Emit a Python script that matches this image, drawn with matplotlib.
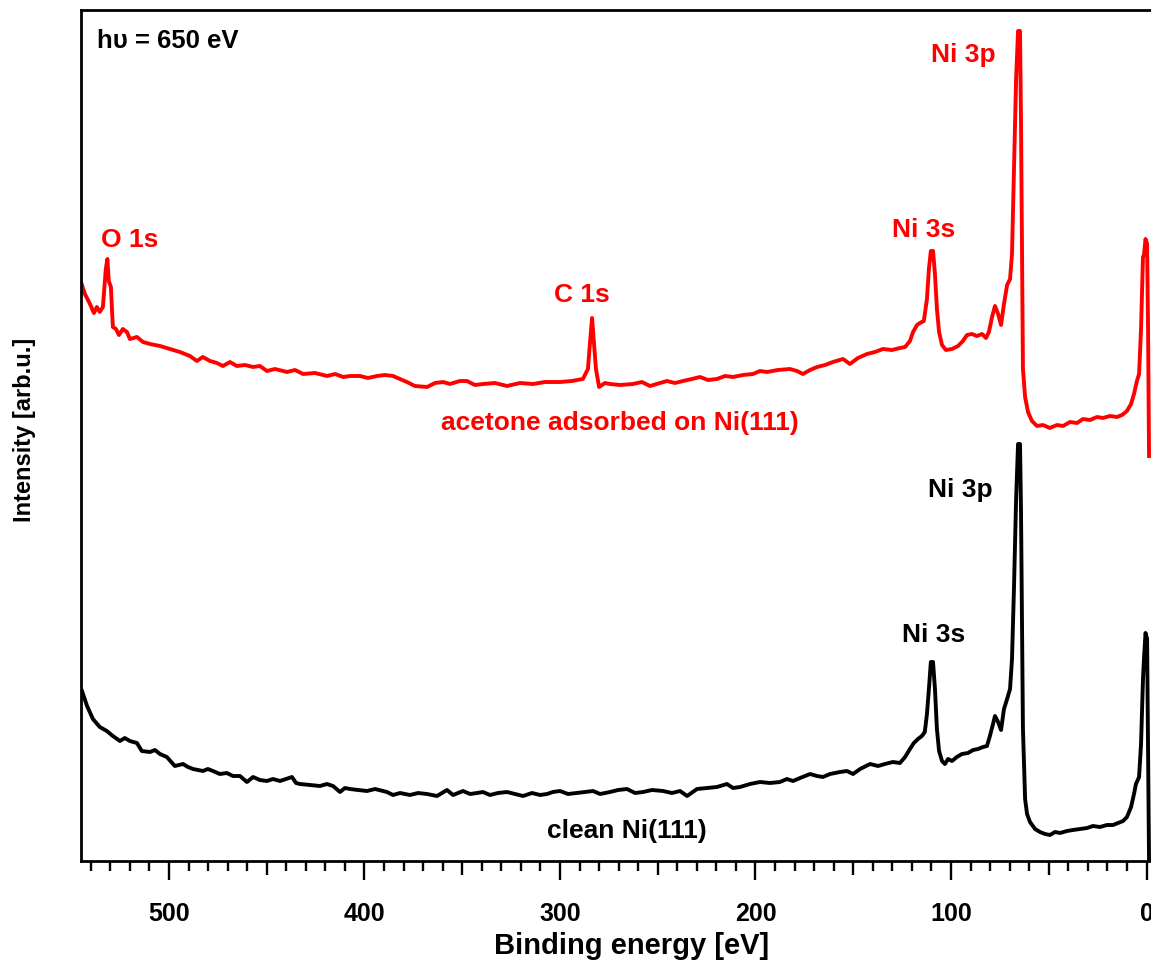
import matplotlib.pyplot as plt
from matplotlib.ticker import MultipleLocator

plt.rcParams['font.family'] = ['Liberation Sans', 'DejaVu Sans']
plt.rcParams['font.weight'] = 'bold'
plt.rcParams['axes.labelweight'] = 'bold'

# acetone adsorbed on Ni(111): binding energy [eV] and intensity [arb.u.]
acetone_be = [545.0, 543.0, 540.4, 538.4, 536.9, 535.4, 533.8, 532.3, 531.5, 530.8,
              529.7, 528.7, 527.1, 525.6, 523.6, 521.5, 520.0, 516.4, 513.3, 509.7,
              504.6, 499.5, 494.4, 489.3, 485.7, 482.7, 479.0, 475.5, 472.4, 468.8,
              465.3, 461.1, 457.0, 453.5, 449.9, 445.8, 439.6, 435.5, 431.4, 425.3,
              419.1, 415.0, 410.9, 407.4, 402.3, 398.2, 393.6, 389.5, 385.4, 381.8,
              378.3, 374.2, 368.0, 363.9, 359.8, 356.3, 351.2, 347.6, 343.5, 339.4,
              333.3, 327.1, 320.5, 313.8, 307.7, 300.0, 293.9, 288.3, 285.7, 284.7,
              283.6, 282.6, 281.6, 280.0, 277.0, 274.4, 269.3, 262.7, 258.1, 254.0,
              248.8, 245.3, 241.2, 237.1, 232.5, 228.4, 224.3, 219.7, 215.6, 211.5,
              206.4, 201.3, 197.7, 194.1, 188.5, 182.4, 178.8, 175.7, 172.1, 168.5,
              164.4, 160.4, 155.2, 151.7, 147.6, 143.0, 138.9, 134.8, 130.2, 126.1,
              123.5, 121.0, 119.4, 117.4, 115.9, 113.9, 112.3, 111.3, 110.3, 109.2,
              108.2, 107.2, 106.1, 104.6, 102.6, 99.5, 96.4, 93.9, 91.8, 89.3,
              86.7, 84.1, 82.1, 80.6, 79.0, 77.5, 75.9, 74.4, 72.9, 71.3,
              69.8, 68.8, 67.8, 66.7, 65.7, 64.7, 64.2, 63.7, 63.2, 62.1,
              60.6, 58.6, 56.0, 53.0, 49.4, 45.8, 42.7, 39.1, 35.5, 32.5,
              28.9, 25.3, 22.3, 18.7, 15.1, 12.5, 10.0, 7.9, 6.4, 4.9,
              3.8, 2.8, 1.8, 1.3, 0.5, -0.3, -0.8, -1.3]
acetone_int = [579, 567, 557, 548, 554, 549, 554, 592, 602, 580,
               574, 534, 532, 526, 532, 529, 522, 524, 519, 517,
               515, 512, 509, 505, 500, 504, 500, 498, 495, 499,
               495, 496, 494, 495, 490, 492, 489, 491, 487, 488,
               485, 487, 484, 485, 485, 483, 485, 486, 485, 482,
               479, 475, 474, 478, 479, 477, 480, 480, 476, 477,
               478, 475, 478, 477, 479, 479, 480, 482, 492, 517,
               543, 517, 492, 474, 478, 477, 476, 477, 479, 475,
               478, 480, 478, 480, 482, 484, 481, 482, 485, 484,
               486, 487, 490, 489, 491, 492, 490, 487, 491, 494,
               496, 499, 502, 497, 503, 507, 509, 512, 511, 513,
               514, 520, 529, 536, 538, 540, 562, 592, 610, 610,
               587, 552, 529, 516, 511, 512, 515, 520, 526, 527,
               525, 527, 523, 529, 544, 555, 547, 536, 557, 576,
               582, 607, 692, 782, 830, 830, 742, 622, 492, 464,
               449, 440, 435, 436, 433, 436, 435, 439, 438, 442,
               441, 444, 443, 445, 444, 446, 450, 457, 467, 480,
               487, 532, 604, 606, 622, 617, 532, 405]

# clean Ni(111)
clean_be = [544.5, 541.9, 538.9, 535.4, 531.8, 528.7, 525.1, 522.6, 520.0, 516.4,
            513.9, 509.7, 507.2, 504.6, 501.1, 497.0, 492.8, 490.3, 487.7, 482.6,
            480.1, 477.5, 474.0, 470.4, 467.3, 463.7, 460.1, 457.0, 453.5, 449.9,
            446.8, 443.2, 440.2, 437.1, 435.0, 433.0, 427.9, 422.8, 419.2, 416.1,
            412.5, 410.0, 407.4, 403.3, 398.7, 394.6, 388.5, 385.4, 381.8, 376.7,
            372.6, 368.0, 362.9, 357.8, 354.7, 349.6, 346.0, 342.4, 339.4, 335.8,
            331.7, 327.1, 323.0, 318.9, 314.3, 310.2, 306.6, 303.6, 300.0, 295.9,
            291.3, 287.2, 283.1, 279.5, 274.4, 270.3, 265.7, 261.6, 257.5, 252.9,
            247.3, 242.7, 238.6, 235.0, 229.9, 224.8, 219.7, 214.6, 211.5, 207.9,
            202.8, 197.7, 192.6, 187.5, 183.9, 180.8, 177.2, 172.1, 168.5, 165.5,
            161.9, 156.8, 153.2, 150.1, 146.5, 141.4, 137.3, 133.8, 129.7, 126.1,
            123.5, 121.0, 119.0, 116.9, 114.9, 113.4, 112.3, 111.3, 110.3, 109.2,
            108.2, 107.2, 106.1, 104.6, 103.1, 101.5, 99.5, 97.0, 94.4, 91.3,
            88.7, 86.2, 83.6, 81.6, 80.1, 78.5, 77.5, 75.9, 74.4, 72.9,
            71.3, 69.8, 68.8, 67.8, 66.7, 65.7, 64.7, 64.2, 63.7, 63.2,
            62.1, 61.1, 59.6, 57.0, 54.5, 51.9, 49.4, 46.8, 44.2, 40.7,
            37.6, 34.0, 30.4, 27.4, 23.8, 20.2, 17.1, 14.6, 12.0, 10.0,
            7.9, 6.4, 5.4, 3.8, 2.8, 1.8, 1.3, 0.5, -0.3, -0.8, -1.3]
clean_int = [170, 155, 142, 134, 130, 125, 120, 123, 120, 118,
             110, 109, 111, 107, 104, 95, 97, 94, 92, 90,
             92, 90, 87, 88, 85, 85, 79, 84, 81, 80,
             82, 80, 82, 84, 78, 77, 76, 75, 77, 75,
             69, 73, 72, 71, 70, 72, 69, 66, 68, 66,
             68, 67, 65, 71, 66, 70, 67, 68, 69, 66,
             68, 69, 67, 65, 68, 66, 67, 69, 70, 67,
             68, 69, 70, 67, 69, 71, 72, 68, 69, 71,
             70, 68, 70, 65, 72, 73, 74, 77, 73, 74,
             77, 79, 78, 79, 82, 80, 83, 87, 85, 84,
             87, 89, 90, 87, 92, 97, 95, 97, 99, 98,
             104, 112, 118, 122, 125, 129, 147, 172, 199, 199,
             172, 132, 110, 100, 97, 102, 100, 104, 107, 108,
             111, 112, 114, 115, 125, 137, 145, 139, 131, 152,
             162, 172, 202, 272, 362, 417, 417, 352, 242, 132,
             62, 47, 39, 32, 29, 27, 26, 29, 28, 30,
             31, 32, 33, 35, 34, 36, 36, 38, 40, 44,
             54, 67, 77, 84, 117, 182, 202, 228, 222, 112, 0]

# peak labels: (text, energy, intensity at baseline)
acetone_labels = [('O 1s', 519.9, 615), ('C 1s', 288.7, 560),
                  ('Ni 3s', 113.8, 625), ('Ni 3p', 93.9, 800),
                  ('acetone adsorbed on Ni(111)', 269.3, 432)]
clean_labels = [('Ni 3p', 95.4, 365), ('Ni 3s', 108.7, 220),
                ('clean Ni(111)', 265.7, 24)]

fig = plt.figure(figsize=(11.51, 9.62), dpi=100)
ax = fig.add_axes([81 / 1151, 100 / 962, 1070 / 1151, 851 / 962])

ax.plot(acetone_be, acetone_int, color='#ff0000', lw=2.8, solid_joinstyle='round')
ax.plot(clean_be, clean_int, color='black', lw=2.8, solid_joinstyle='round')

for txt, e, y in acetone_labels:
    ax.text(e, y, txt, color='#ff0000', fontsize=19, ha='center', va='baseline')
for txt, e, y in clean_labels:
    ax.text(e, y, txt, color='black', fontsize=19, ha='center', va='baseline')

ax.text(0.015, 0.9565, 'h\u03c5 = 650 eV', transform=ax.transAxes,
        fontsize=18.5, ha='left', va='baseline')

ax.set_xlim(545.0, -2.3)
ax.set_ylim(0, 851)

ax.spines['right'].set_visible(False)
for s in ['left', 'top', 'bottom']:
    ax.spines[s].set_linewidth(2.0)

ax.set_yticks([])
ax.xaxis.set_major_locator(MultipleLocator(100))
ax.xaxis.set_minor_locator(MultipleLocator(10))
ax.tick_params(axis='x', which='major', direction='out', length=13.7, width=1.7,
               labelsize=18, pad=15)
ax.tick_params(axis='x', which='minor', direction='out', length=7.2, width=1.7)

ax.set_xlabel('Binding energy [eV]', fontsize=21)
ax.xaxis.set_label_coords(0.515, -0.0823)
ax.xaxis.label.set_va('top')
ax.set_ylabel('Intensity [arb.u.]', fontsize=17)
ax.yaxis.set_label_coords(-0.0528, 0.5076)
ax.yaxis.label.set_va('center')

# half-way ticks (every 50 eV) a bit longer than the rest
fig.canvas.draw()
locs = ax.xaxis.get_minorticklocs()
for loc, tick in zip(locs, ax.xaxis.get_minor_ticks(len(locs))):
    if round(loc) % 50 == 0:
        tick.tick1line.set_markersize(10)

fig.savefig('out.png', dpi=100)
